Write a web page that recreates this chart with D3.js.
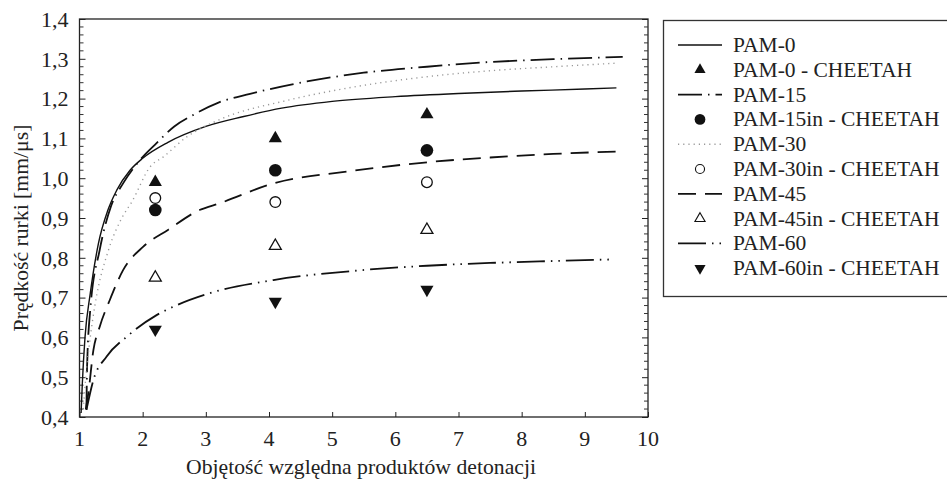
<!DOCTYPE html>
<html>
<head>
<meta charset="utf-8">
<script src="https://cdn.jsdelivr.net/npm/d3@7"></script>
<style>
  body { margin: 0; background: #fff; }
</style>
</head>
<body>
<div id="chart"></div>
<script>
// curves [x, y]
var pam0 = [[1.025,0.41],[1.045,0.485],[1.087,0.60],[1.17,0.71],[1.30,0.836],[1.45,0.92],[1.59,0.97],[1.8,1.02],[2.0,1.05],[2.4,1.09],[3.0,1.13],[3.6,1.155],[4.2,1.176],[5.0,1.193],[6.0,1.205],[7.0,1.213],[8.0,1.219],[9.0,1.224],[9.5,1.227]];
var pam15 = [[1.11,0.418],[1.12,0.526],[1.17,0.669],[1.32,0.82],[1.5,0.93],[1.69,0.987],[1.96,1.046],[2.22,1.088],[2.5,1.13],[2.8,1.159],[3.2,1.19],[3.7,1.212],[4.6,1.243],[5.5,1.265],[6.5,1.28],[7.4,1.291],[8.5,1.299],[9.6,1.305]];
var pam30 = [[1.06,0.42],[1.1,0.5],[1.17,0.6],[1.25,0.686],[1.46,0.82],[1.67,0.9],[1.83,0.941],[2.12,1.029],[2.33,1.054],[2.7,1.104],[3.2,1.146],[4.3,1.196],[5.3,1.228],[6.5,1.255],[7.5,1.27],[8.5,1.28],[9.5,1.289]];
var pam45 = [[1.1,0.42],[1.14,0.46],[1.22,0.568],[1.32,0.627],[1.48,0.694],[1.69,0.769],[2.01,0.828],[2.4,0.87],[2.9,0.92],[3.22,0.937],[4.07,0.987],[5.3,1.018],[6.5,1.04],[7.5,1.052],[8.5,1.061],[9.55,1.067]];
var pam60 = [[1.11,0.418],[1.22,0.493],[1.43,0.552],[1.75,0.602],[2.22,0.656],[2.54,0.681],[3.06,0.711],[4.07,0.744],[5.4,0.768],[6.5,0.78],[7.5,0.787],[8.5,0.792],[9.45,0.796]];

// CHEETAH points
var cheetahX = [2.2, 4.1, 6.5];
var pam0C = [0.99, 1.10, 1.16];
var pam15C = [0.92, 1.02, 1.07];
var pam30C = [0.95, 0.94, 0.99];
var pam45C = [0.75, 0.83, 0.87];
var pam60C = [0.62, 0.69, 0.72];

var xTicks = [1,2,3,4,5,6,7,8,9,10];
var yTicks = [0.4,0.5,0.6,0.7,0.8,0.9,1.0,1.1,1.2,1.3,1.4];

var legendNames = ["PAM-0","PAM-0 - CHEETAH","PAM-15","PAM-15in - CHEETAH","PAM-30","PAM-30in - CHEETAH","PAM-45","PAM-45in - CHEETAH","PAM-60","PAM-60in - CHEETAH"];

var FONT = "'Liberation Serif', 'DejaVu Serif', serif";

var W = 947, H = 482;
var svg = d3.select('#chart').append('svg')
  .attr('width', W)
  .attr('height', H);

var x = d3.scaleLinear().domain([1, 10]).range([79.5, 648]);
var y = d3.scaleLinear().domain([0.4, 1.4]).range([417, 19]);

// line styles
var styles = {
  solid: {dash: null, color: "#111", w: 1.4},
  dashdot: {dash: "24,6,1.5,6", color: "#111", w: 1.8},
  dotted: {dash: "1.2,4", color: "#999", w: 1.4},
  dashed: {dash: "18,9", color: "#111", w: 1.8},
  dashdot2: {dash: "28,6,1.5,6,1.5,6", color: "#111", w: 1.8}
};

var curves = [
  {data: pam0, s: styles.solid},
  {data: pam15, s: styles.dashdot},
  {data: pam30, s: styles.dotted},
  {data: pam45, s: styles.dashed},
  {data: pam60, s: styles.dashdot2}
];

var line = d3.line()
  .x(function(d){ return x(d[0]); })
  .y(function(d){ return y(d[1]); })
  .curve(d3.curveMonotoneX);

// frame
svg.append("rect")
  .attr("x", x(1)).attr("y", y(1.4))
  .attr("width", x(10) - x(1)).attr("height", y(0.4) - y(1.4))
  .attr("fill", "none").attr("stroke", "#222").attr("stroke-width", 1.3);

// left axis, inward ticks
var minor = d3.range(0.42, 1.4, 0.02).filter(function(v){ return Math.abs(v*10 - Math.round(v*10)) > 0.01; });
var leftAxis = d3.axisRight(y).tickValues(yTicks).tickSize(6).tickFormat(function(d){ return d.toFixed(1).replace(".", ","); });
var gl = svg.append("g").attr("transform", "translate(" + x(1) + ",0)").call(leftAxis);
gl.select(".domain").remove();
gl.selectAll("line").attr("stroke", "#222");
gl.selectAll("text").attr("x", -11).attr("text-anchor", "end").attr("dy", "0.33em")
  .style("font-size", "22px").style("font-family", FONT).attr("fill", "#222");

svg.append("g").selectAll("line").data(minor).enter().append("line")
  .attr("x1", x(1)).attr("x2", x(1) + 4)
  .attr("y1", function(d){ return y(d); }).attr("y2", function(d){ return y(d); })
  .attr("stroke", "#333");

// right axis ticks
var gr = svg.append("g").attr("transform", "translate(" + x(10) + ",0)")
  .call(d3.axisLeft(y).tickValues(yTicks).tickSize(6).tickFormat(""));
gr.select(".domain").remove();
gr.selectAll("line").attr("stroke", "#222");
svg.append("g").selectAll("line").data(minor).enter().append("line")
  .attr("x1", x(10)).attr("x2", x(10) - 4)
  .attr("y1", function(d){ return y(d); }).attr("y2", function(d){ return y(d); })
  .attr("stroke", "#333");

// bottom axis
var gb = svg.append("g").attr("transform", "translate(0," + y(0.4) + ")")
  .call(d3.axisTop(x).tickValues(xTicks).tickSize(5).tickFormat(""));
gb.select(".domain").remove();
gb.selectAll("line").attr("stroke", "#222");
svg.append("g").selectAll("text").data(xTicks).enter().append("text")
  .attr("x", function(d){ return x(d); })
  .attr("y", y(0.4) + 29)
  .attr("text-anchor", "middle")
  .style("font-size", "22px").style("font-family", FONT).attr("fill", "#222")
  .text(function(d){ return d; });

// axis titles
svg.append("text")
  .attr("x", 361).attr("y", 474)
  .attr("text-anchor", "middle")
  .style("font-size", "21.7px").style("font-family", FONT).attr("fill", "#222")
  .text("Objętość względna produktów detonacji");
svg.append("text")
  .attr("transform", "translate(28,228) rotate(-90)")
  .attr("text-anchor", "middle")
  .style("font-size", "21.7px").style("font-family", FONT).attr("fill", "#222")
  .text("Prędkość rurki [mm/μs]");

// curves
svg.selectAll(".curve").data(curves).enter().append("path")
  .attr("class", "curve")
  .attr("d", function(d){ return line(d.data); })
  .attr("fill", "none")
  .attr("stroke", function(d){ return d.s.color; })
  .attr("stroke-width", function(d){ return d.s.w; })
  .attr("stroke-dasharray", function(d){ return d.s.dash; });

// markers
var tri = d3.symbol().type(d3.symbolTriangle).size(75);
var circ = d3.symbol().type(d3.symbolCircle).size(125);
var circO = d3.symbol().type(d3.symbolCircle).size(90);
var triO = d3.symbol().type(d3.symbolTriangle).size(62);

var markerSets = [
  {vals: pam0C, path: tri(), fill: "#111", stroke: "none", rot: 0},
  {vals: pam15C, path: circ(), fill: "#111", stroke: "none", rot: 0},
  {vals: pam30C, path: circO(), fill: "#fff", stroke: "#111", rot: 0},
  {vals: pam45C, path: triO(), fill: "#fff", stroke: "#111", rot: 0},
  {vals: pam60C, path: tri(), fill: "#111", stroke: "none", rot: 180}
];

markerSets.forEach(function(m){
  svg.append("g").selectAll("path").data(m.vals).enter().append("path")
    .attr("d", m.path)
    .attr("transform", function(d, i){ return "translate(" + x(cheetahX[i]) + "," + y(d) + ") rotate(" + m.rot + ")"; })
    .attr("fill", m.fill)
    .attr("stroke", m.stroke)
    .attr("stroke-width", 1.3);
});

// legend
var lg = svg.append("g");
lg.append("rect")
  .attr("x", 663.5).attr("y", 20.5)
  .attr("width", 300).attr("height", 276)
  .attr("fill", "#fff").attr("stroke", "#333").attr("stroke-width", 1.3);

var legendKeys = [
  {type: "line", s: styles.solid},
  {type: "mark", m: markerSets[0]},
  {type: "line", s: styles.dashdot},
  {type: "mark", m: markerSets[1]},
  {type: "line", s: styles.dotted},
  {type: "mark", m: markerSets[2]},
  {type: "line", s: styles.dashed},
  {type: "mark", m: markerSets[3]},
  {type: "line", s: styles.dashdot2},
  {type: "mark", m: markerSets[4]}
];

var rowY = function(i){ return 45 + i * 24.8; };

legendKeys.forEach(function(k, i){
  if (k.type == "line") {
    lg.append("line")
      .attr("x1", 678).attr("x2", 722)
      .attr("y1", rowY(i)).attr("y2", rowY(i))
      .attr("stroke", k.s.color)
      .attr("stroke-width", k.s.w)
      .attr("stroke-dasharray", k.s.dash);
  } else {
    lg.append("path")
      .attr("d", k.m.path)
      .attr("transform", "translate(700," + rowY(i) + ") rotate(" + k.m.rot + ") scale(0.85)")
      .attr("fill", k.m.fill)
      .attr("stroke", k.m.stroke)
      .attr("stroke-width", 1.3);
  }
});

lg.selectAll("text").data(legendNames).enter().append("text")
  .attr("x", 733)
  .attr("y", function(d, i){ return rowY(i) + 7; })
  .style("font-size", "21.5px").style("font-family", FONT).attr("fill", "#222")
  .text(function(d){ return d; });
</script>
</body>
</html>
